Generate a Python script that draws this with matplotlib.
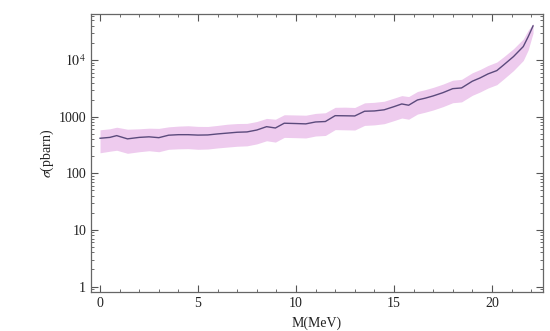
import matplotlib
matplotlib.use("Agg")
import matplotlib.pyplot as plt
from matplotlib.ticker import LogLocator, FixedLocator, NullFormatter, MultipleLocator

plt.rcParams['font.family'] = ['Liberation Serif', 'DejaVu Serif']
plt.rcParams['mathtext.fontset'] = 'stix'

mass = [0.0, 0.5, 0.85, 1.4, 2.0, 2.5, 3.0, 3.5, 4.0, 4.5, 5.0, 5.5, 6.0, 6.5,
        7.0, 7.5, 8.0, 8.5, 8.95, 9.4, 10.0, 10.5, 11.0, 11.5, 12.0, 12.5,
        13.0, 13.5, 14.0, 14.5, 15.0, 15.4, 15.75, 16.2, 16.6, 17.0, 17.5,
        18.0, 18.45, 19.0, 19.4, 19.8, 20.25, 20.6, 21.1, 21.6, 21.85, 22.1]
sigma = [415, 430, 462, 405, 430, 440, 425, 470, 480, 480, 472, 475, 495, 512,
         530, 537, 580, 665, 630, 765, 755, 745, 805, 820, 1040, 1035,
         1028, 1245, 1260, 1320, 1500, 1675, 1590, 1970, 2120, 2320, 2650,
         3120, 3210, 4220, 4830, 5680, 6500, 8190, 11480, 17260, 25700, 40000]
sigma_hi = [585, 610, 650, 600, 610, 625, 620, 660, 680, 690, 672, 670, 700, 735,
            755, 760, 820, 930, 900, 1080, 1070, 1060, 1140, 1170, 1460, 1470,
            1450, 1750, 1790, 1870, 2120, 2350, 2260, 2780, 3000, 3280, 3750,
            4400, 4550, 5950, 6800, 8000, 9200, 11400, 15800, 23500, 33500, 44000]
sigma_lo = [230, 245, 255, 225, 240, 250, 240, 265, 270, 272, 265, 268, 280, 290,
            300, 305, 330, 375, 355, 430, 425, 420, 455, 465, 590, 585,
            580, 700, 715, 750, 850, 945, 900, 1110, 1200, 1310, 1500,
            1760, 1820, 2380, 2730, 3200, 3670, 4620, 6500, 9800, 15000, 30000]

xticks = [0, 5, 10, 15, 20]
yticks = [1, 10, 100, 1000, 10000]
ytick_labels = ['1', '10', '100', '1000', r'$10^4$']

fig = plt.figure(figsize=(5.5, 3.31), dpi=100)
ax = fig.add_axes([0.1655, 0.1178, 0.8215, 0.84])

ax.fill_between(mass, sigma_lo, sigma_hi, color='#EECBEE', linewidth=0, alpha=1.0)
ax.plot(mass, sigma, color='#5B4A7C', linewidth=1.0)

ax.set_yscale('log')
ax.set_xlim(-0.46, 22.6)
ax.set_ylim(0.8, 65000)

ax.set_xticks(xticks)
ax.set_xticklabels([str(t) for t in xticks])
ax.xaxis.set_minor_locator(MultipleLocator(1))
ax.yaxis.set_major_locator(FixedLocator(yticks))
ax.set_yticklabels(ytick_labels)
ax.yaxis.set_minor_locator(LogLocator(base=10, subs=range(2, 10), numticks=20))
ax.yaxis.set_minor_formatter(NullFormatter())

ax.tick_params(which='both', direction='in', top=True, right=True, colors='#555555',
               labelcolor='#222222', labelsize=10)
ax.tick_params(which='major', length=5, width=0.8)
ax.tick_params(which='minor', length=2.5, width=0.6)
for s in ax.spines.values():
    s.set_color('#666666')
    s.set_linewidth(0.9)

ax.set_xlabel('M(MeV)', fontsize=10, color='#222222', labelpad=5)
ax.set_ylabel(r'$\sigma$(pbarn)', fontsize=10, color='#222222', labelpad=2)

fig.savefig('out.png', dpi=100)
